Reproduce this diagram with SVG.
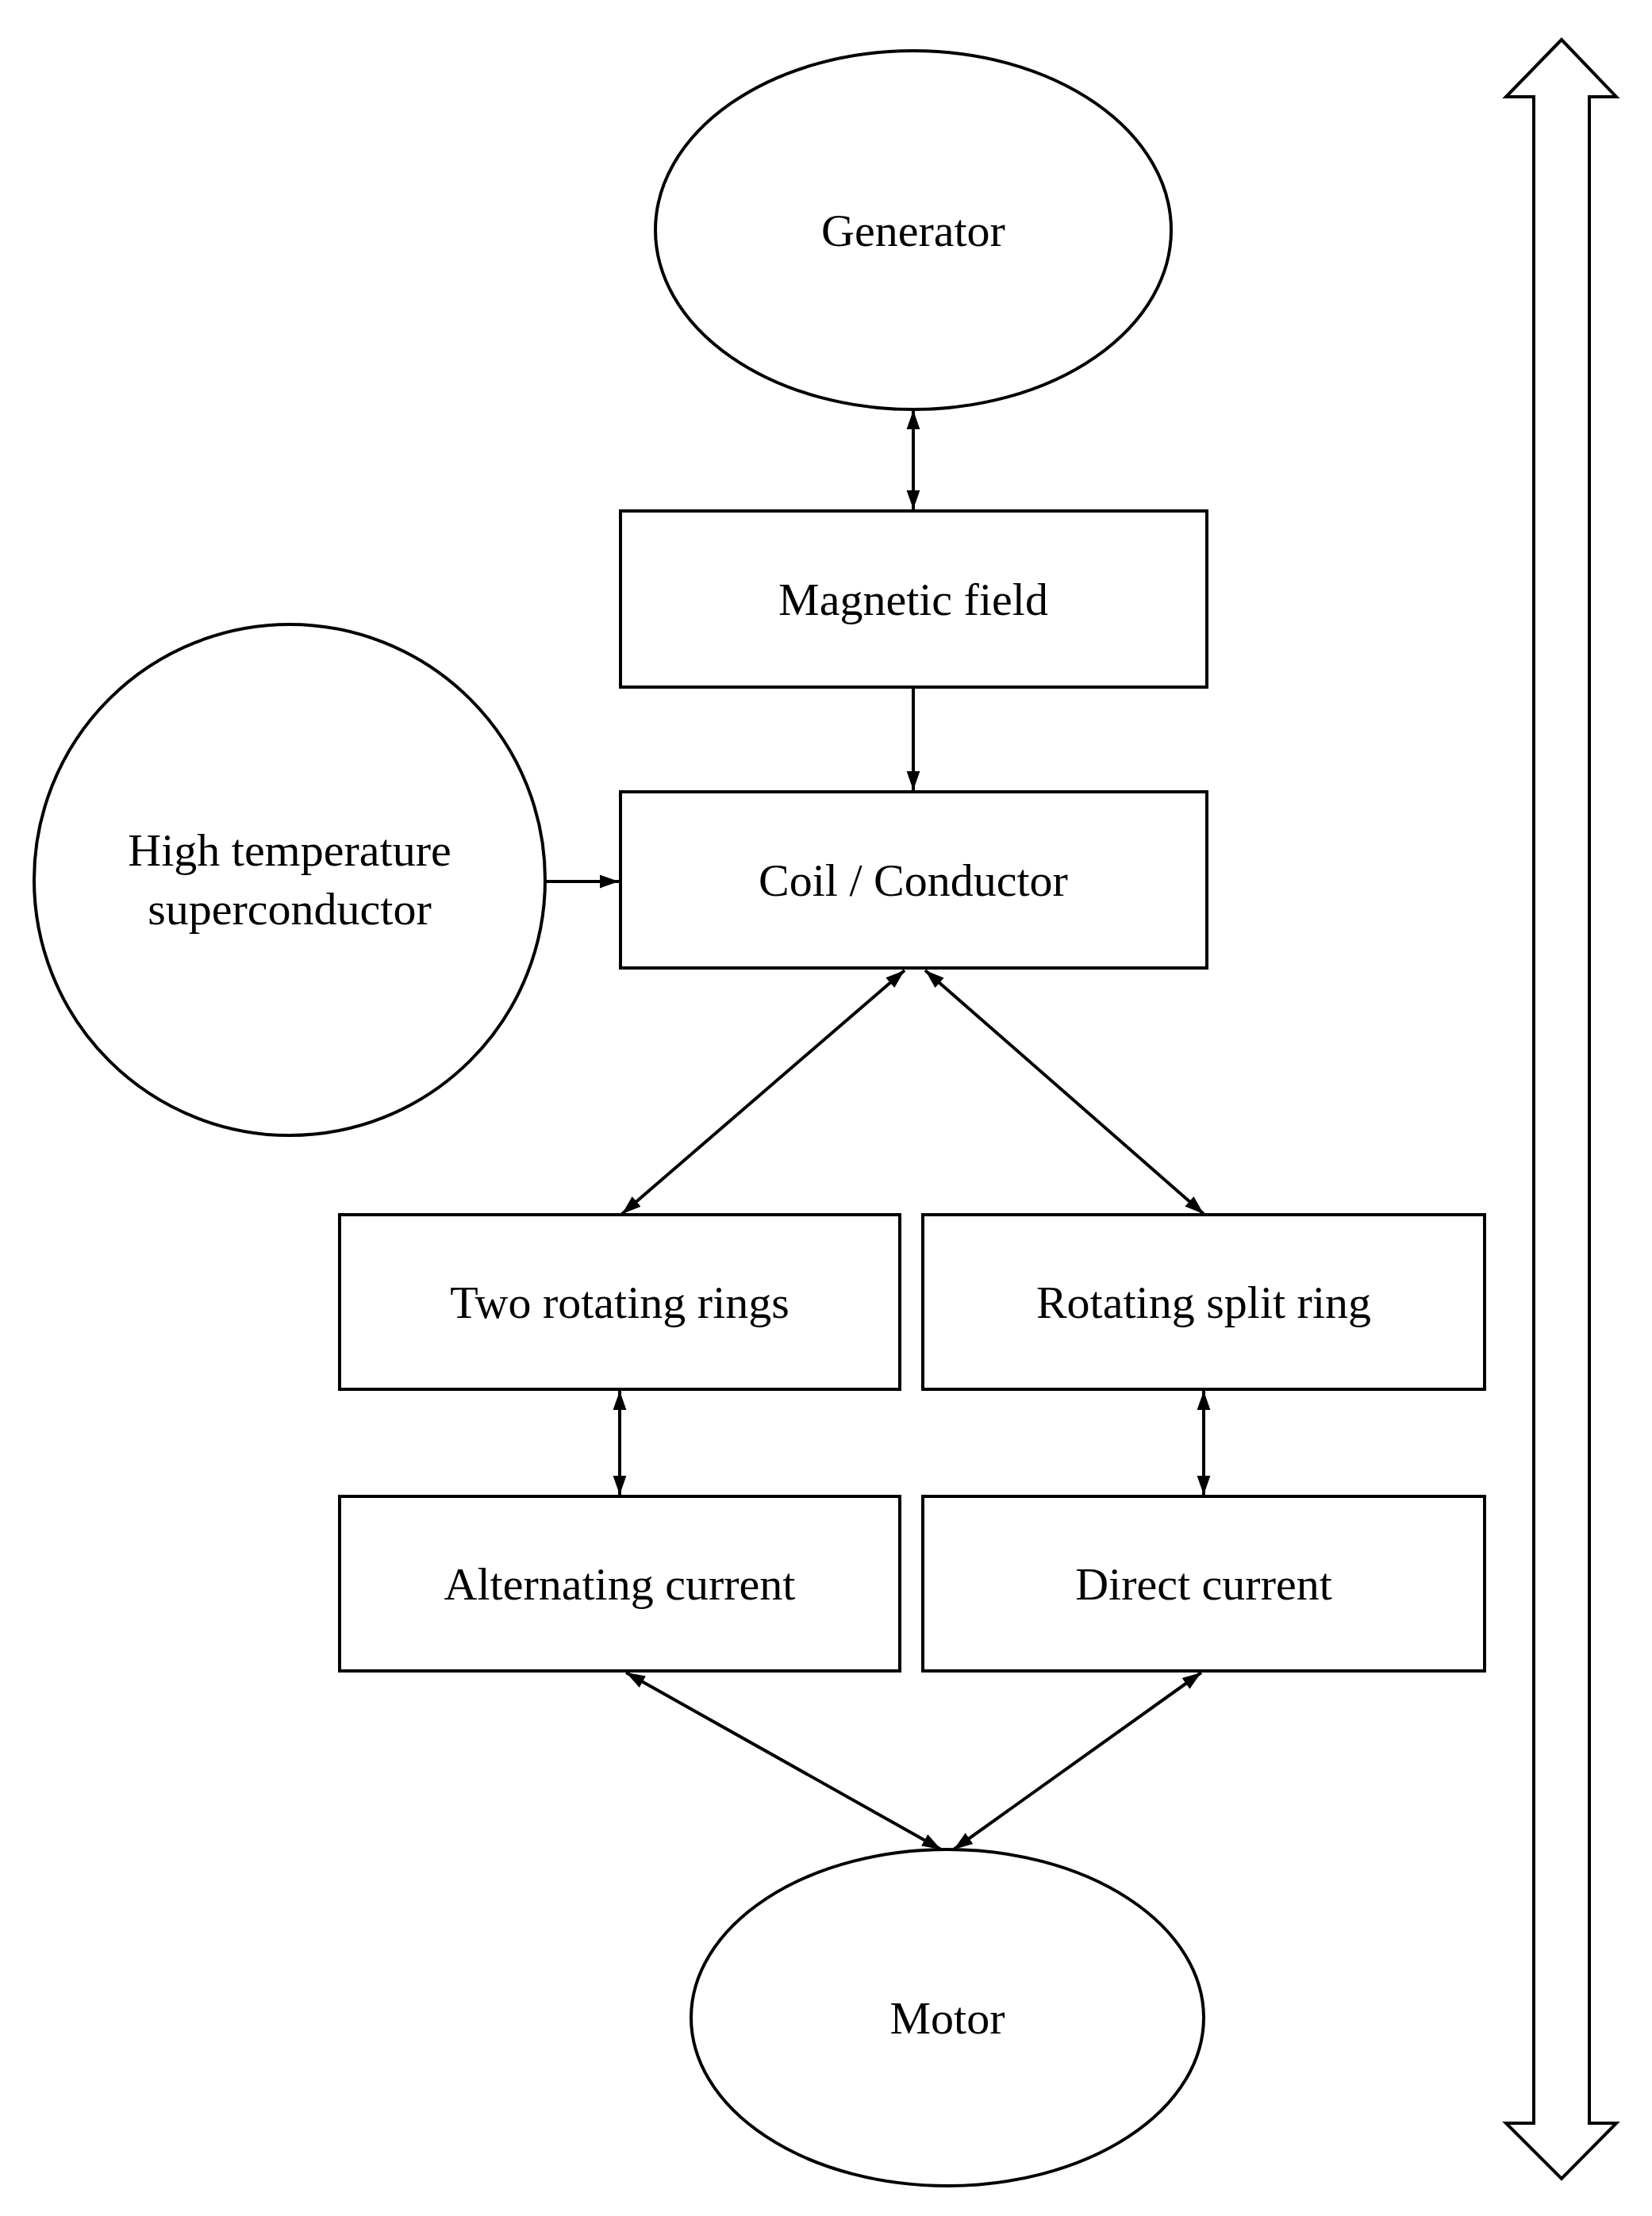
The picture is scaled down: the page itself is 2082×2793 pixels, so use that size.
<svg xmlns="http://www.w3.org/2000/svg" width="2082" height="2793" viewBox="0 0 2082 2793">
<style>
.s{fill:#fff;stroke:#000;stroke-width:4}
.t{font-family:"Liberation Serif",serif;font-size:58px;text-anchor:middle;fill:#000}
.c{stroke:#000;stroke-width:4;fill:none}
</style>
<defs>
<marker id="a" viewBox="0 0 10 10" refX="10" refY="5" markerWidth="6" markerHeight="6" markerUnits="strokeWidth" orient="auto-start-reverse"><path d="M0,1.5L10,5L0,8.5z" fill="#000"/></marker>
</defs>
<rect width="2082" height="2793" fill="#fff"/>
<g id="generator"><ellipse class="s" cx="1151" cy="290" rx="325" ry="226"/><text class="t" x="1151" y="310">Generator</text></g>
<g id="magnetic"><rect class="s" x="782" y="644" width="739" height="222"/><text class="t" x="1151" y="775">Magnetic field</text></g>
<g id="coil"><rect class="s" x="782" y="998" width="739" height="222"/><text class="t" x="1151" y="1129">Coil / Conductor</text></g>
<g id="hts"><ellipse class="s" cx="365" cy="1109" rx="322" ry="322"/><text class="t" x="365" y="1091">High temperature</text><text class="t" x="365" y="1165">superconductor</text></g>
<g id="tworings"><rect class="s" x="428" y="1531" width="706" height="220"/><text class="t" x="781" y="1661">Two rotating rings</text></g>
<g id="splitring"><rect class="s" x="1163" y="1531" width="708" height="220"/><text class="t" x="1517" y="1661">Rotating split ring</text></g>
<g id="ac"><rect class="s" x="428" y="1886" width="706" height="220"/><text class="t" x="781" y="2016">Alternating current</text></g>
<g id="dc"><rect class="s" x="1163" y="1886" width="708" height="220"/><text class="t" x="1517" y="2016">Direct current</text></g>
<g id="motor"><ellipse class="s" cx="1194" cy="2543" rx="323" ry="212"/><text class="t" x="1194" y="2563">Motor</text></g>
<g id="bigarrow"><path class="s" d="M1968,50L2037,122L2003,122L2003,2676L2037,2676L1968,2746L1898,2676L1933,2676L1933,122L1898,122z"/></g>
<g id="connectors">
<line class="c" x1="1151" y1="517" x2="1151" y2="642" marker-start="url(#a)" marker-end="url(#a)"/>
<line class="c" x1="1151" y1="866" x2="1151" y2="996" marker-end="url(#a)"/>
<line class="c" x1="687" y1="1111" x2="780" y2="1111" marker-end="url(#a)"/>
<line class="c" x1="1140" y1="1223" x2="784" y2="1530" marker-start="url(#a)" marker-end="url(#a)"/>
<line class="c" x1="1166" y1="1223" x2="1517" y2="1530" marker-start="url(#a)" marker-end="url(#a)"/>
<line class="c" x1="781" y1="1753" x2="781" y2="1884" marker-start="url(#a)" marker-end="url(#a)"/>
<line class="c" x1="1517" y1="1753" x2="1517" y2="1884" marker-start="url(#a)" marker-end="url(#a)"/>
<line class="c" x1="789" y1="2108" x2="1186" y2="2331" marker-start="url(#a)" marker-end="url(#a)"/>
<line class="c" x1="1514" y1="2108" x2="1202" y2="2331" marker-start="url(#a)" marker-end="url(#a)"/>
</g>
</svg>
